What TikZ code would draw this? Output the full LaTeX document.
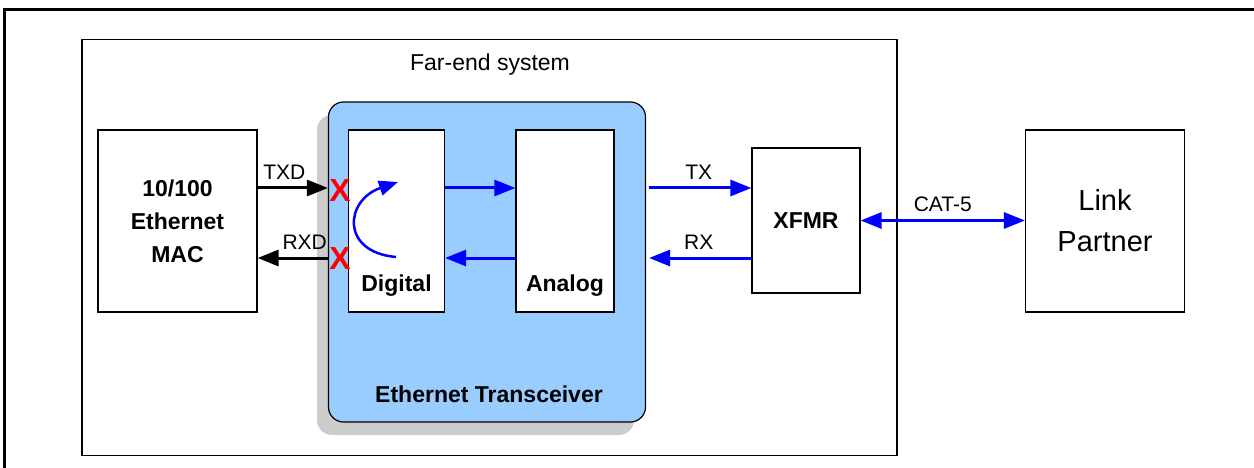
\documentclass[tikz,border=0pt]{standalone}
\usepackage{fontspec}
\setmainfont{Liberation Sans}
\usetikzlibrary{arrows.meta,positioning}
\definecolor{trxblue}{RGB}{153,204,255}
\definecolor{trxshade}{RGB}{204,204,204}

\begin{document}
\begin{tikzpicture}[x=1pt,y=-1pt]
\tikzset{blk/.style 2 args={draw,line width=1.2pt,fill=white,minimum width=#1,minimum height=#2,inner sep=0pt,align=center,font=\fontsize{23}{33}\selectfont\bfseries}}
\tikzset{lbl/.style={text=black,font=\fontsize{21}{22}\selectfont,inner sep=1pt,above=6pt}}
\tikzset{sig/.style={line width=3pt,-{Triangle[length=21pt,width=16pt]}}}
\tikzset{xmark/.style={text=red,inner sep=0pt,font=\fontsize{32}{32}\selectfont\bfseries}}
%\tikzset{every node/.style={draw=red}}
\useasboundingbox (0,0) rectangle (1254,468);
\draw[line width=3pt] (4.5,468) -- (4.5,10) -- (1254,10);
\node[draw,line width=1.2pt,minimum width=815pt,minimum height=416pt] (far) at (489.5,247.5) {};
\node[font=\fontsize{23}{26}\selectfont] (farlbl) at (490,65) {Far-end system};
\fill[trxshade,rounded corners=15pt] (317,115) rectangle (634,435);
\node[draw,line width=1.2pt,fill=trxblue,rounded corners=15pt,minimum width=317pt,minimum height=320pt] (trx) at (487,262) {};
\node[font=\fontsize{23}{26}\selectfont\bfseries] (trxlbl) at (489,394) {Ethernet Transceiver};
\node[blk={159pt}{182pt}] (mac) at (177.5,221) {10/100\\Ethernet\\MAC};
\node[blk={96pt}{182pt}] (dig) at (396.5,221) {};
\node[font=\fontsize{23}{26}\selectfont\bfseries] (diglbl) at (396.5,286) {Digital};
\node[blk={98pt}{182pt}] (ana) at (565,221) {};
\node[font=\fontsize{23}{26}\selectfont\bfseries] (analbl) at (565,286) {Analog};
\node[blk={108pt}{145pt}] (xfmr) at (806,220.5) {XFMR};
\node[blk={159pt}{182pt},font=\fontsize{29}{41}\selectfont] (link) at (1105,221) {Link\\Partner};
\node[xmark] (xtx) at (340,190) {X};
\node[xmark] (xrx) at (340,258) {X};
\path ([yshift=33pt]mac.east) coordinate (macT) ([yshift=-37pt]mac.east) coordinate (macR);
\draw[sig] (macT) -- (macT -| trx.west) node[lbl,pos=0.38] {TXD};
\draw[sig] (macR -| trx.west) -- (macR) node[lbl,pos=0.33] {RXD};
\draw[sig,blue] (dig.east |- macT) -- (ana.west |- macT);
\draw[sig,blue] (ana.west |- macR) -- (dig.east |- macR);
\draw[sig,blue,shorten <=3pt] (trx.east |- macT) -- (xfmr.west |- macT) node[lbl,midway] {TX};
\draw[sig,blue,shorten >=3pt] (xfmr.west |- macR) -- (trx.east |- macR) node[lbl,midway] {RX};
\draw[line width=3pt,blue,{Triangle[length=21pt,width=16pt]}-{Triangle[length=21pt,width=16pt]}] (xfmr.east) -- (xfmr.east -| link.west) node[lbl,midway] {CAT-5};
\coordinate (loopA) at (396,257);
\coordinate (loopB) at (398,182);
\draw[sig,blue,line width=2.5pt,-{Triangle[length=19pt,width=15pt]}] (loopA) .. controls (340,252) and (345,200) .. (loopB);
\end{tikzpicture}
\end{document}
